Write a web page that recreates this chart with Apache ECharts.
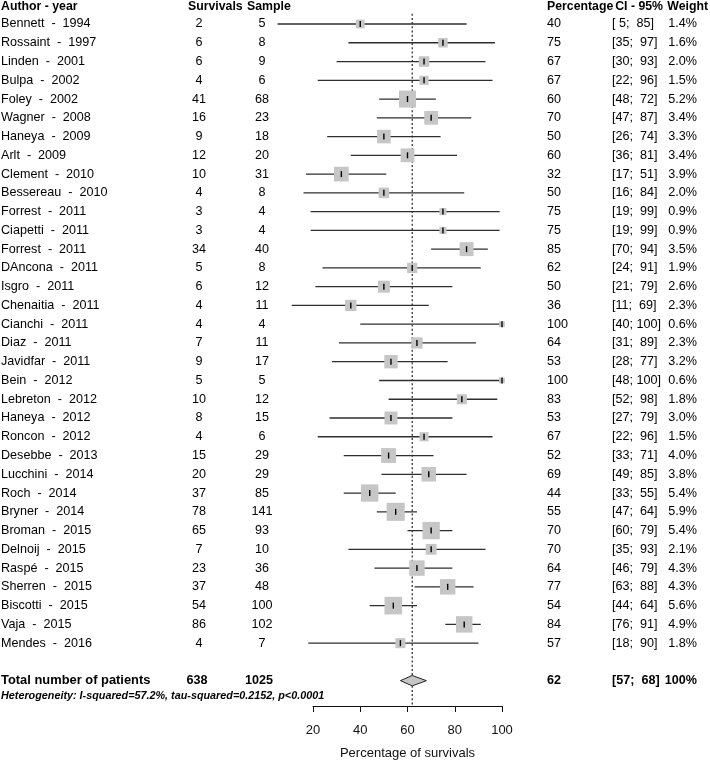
<!DOCTYPE html>
<html>
<head>
<meta charset="utf-8">
<script src="https://cdn.jsdelivr.net/npm/echarts@6/dist/echarts.min.js"></script>
<style>
html,body{margin:0;padding:0;background:#fff;}
#chart{width:710px;height:761px;}
</style>
</head>
<body>
<div id="chart"></div>
<script>
// ---------------- data ----------------
const authors = ['Bennett  -  1994','Rossaint  -  1997','Linden  -  2001','Bulpa  -  2002','Foley  -  2002','Wagner  -  2008','Haneya  -  2009','Arlt  -  2009','Clement  -  2010','Bessereau  -  2010','Forrest  -  2011','Ciapetti  -  2011','Forrest  -  2011','DAncona  -  2011','Isgro  -  2011','Chenaitia  -  2011','Cianchi  -  2011','Diaz  -  2011','Javidfar  -  2011','Bein  -  2012','Lebreton  -  2012','Haneya  -  2012','Roncon  -  2012','Desebbe  -  2013','Lucchini  -  2014','Roch  -  2014','Bryner  -  2014','Broman  -  2015','Delnoij  -  2015','Raspé  -  2015','Sherren  -  2015','Biscotti  -  2015','Vaja  -  2015','Mendes  -  2016'];
const survivals = [2,6,6,4,41,16,9,12,10,4,3,3,34,5,6,4,4,7,9,5,10,8,4,15,20,37,78,65,7,23,37,54,86,4];
const samples = [5,8,9,6,68,23,18,20,31,8,4,4,40,8,12,11,4,11,17,5,12,15,6,29,29,85,141,93,10,36,48,100,102,7];
const percentages = [40,75,67,67,60,70,50,60,32,50,75,75,85,62,50,36,100,64,53,100,83,53,67,52,69,44,55,70,70,64,77,54,84,57];
const ciLower = [5,35,30,22,48,47,26,36,17,16,19,19,70,24,21,11,40,31,28,48,52,27,22,33,49,33,47,60,35,46,63,44,76,18];
const ciUpper = [85,97,93,96,72,87,74,81,51,84,99,99,94,91,79,69,100,89,77,100,98,79,96,71,85,55,64,79,93,79,88,64,91,90];
const weights = [1.4,1.6,2.0,1.5,5.2,3.4,3.3,3.4,3.9,2.0,0.9,0.9,3.5,1.9,2.6,2.3,0.6,2.3,3.2,0.6,1.8,3.0,1.5,4.0,3.8,5.4,5.9,5.4,2.1,4.3,4.3,5.6,4.9,1.8];

const totalLabel = 'Total number of patients';
const totalSurvivals = 638;
const totalSample = 1025;
const pooledPct = 62;
const pooledLower = 57;
const pooledUpper = 68;
const pooledWeight = '100%';
const heterogeneityText = 'Heterogeneity: I-squared=57.2%, tau-squared=0.2152, p<0.0001';

const headers = ['Author - year','Survivals','Sample','Percentage','CI - 95%','Weight'];
const xTicks = [20, 40, 60, 80, 100];
const axisTitle = 'Percentage of survivals';

// ---------------- layout ----------------
const FONT = "'Liberation Sans', Arial, sans-serif";
const BODY = 12.6;
const HEAD = 12.3;
const ROW_HEADER = -0.92, ROW_TOTAL = 35, ROW_HET = 35.8;
const cols = {
  author: {x: 1, align: 'left'},
  surv: {x: 199, align: 'center'},
  samp: {x: 262, align: 'center'},
  pct: {x: 547, align: 'left'},
  ci: {x: 612, align: 'left'},
  wt: {x: 697, align: 'right'}
};
const headerPos = [
  {x: 1, align: 'left'}, {x: 188, align: 'left'}, {x: 247, align: 'left'},
  {x: 547, align: 'left'}, {x: 663, align: 'right'}, {x: 708, align: 'right'}
];

function fmtCI(lo, hi) {
  return '[' + String(lo).padStart(2, ' ') + '; ' + String(hi).padStart(3, ' ') + ']';
}

// build text items
const textItems = [];
headers.forEach((h, i) => textItems.push({row: ROW_HEADER, x: headerPos[i].x, align: headerPos[i].align, text: h, weight: 'bold', size: HEAD}));
authors.forEach((a, i) => {
  textItems.push({row: i, ...cols.author, text: a});
  textItems.push({row: i, ...cols.surv, text: String(survivals[i])});
  textItems.push({row: i, ...cols.samp, text: String(samples[i])});
  textItems.push({row: i, ...cols.pct, text: String(percentages[i])});
  textItems.push({row: i, ...cols.ci, text: fmtCI(ciLower[i], ciUpper[i])});
  textItems.push({row: i, ...cols.wt, text: weights[i].toFixed(1) + '%'});
});
textItems.push({row: ROW_TOTAL, ...cols.author, text: totalLabel, weight: 'bold', size: 12.9});
textItems.push({row: ROW_TOTAL, x: 197, align: 'center', text: String(totalSurvivals), weight: 'bold'});
textItems.push({row: ROW_TOTAL, x: 259, align: 'center', text: String(totalSample), weight: 'bold'});
textItems.push({row: ROW_TOTAL, ...cols.pct, text: String(pooledPct), weight: 'bold'});
textItems.push({row: ROW_TOTAL, ...cols.ci, text: fmtCI(pooledLower, pooledUpper), weight: 'bold'});
textItems.push({row: ROW_TOTAL, ...cols.wt, text: pooledWeight, weight: 'bold'});
textItems.push({row: ROW_HET, ...cols.author, text: heterogeneityText, weight: 'bold', style: 'italic', size: 10.8});

const studyData = percentages.map((p, i) => [p, i, ciLower[i], ciUpper[i], weights[i]]);

const Y_MAX = 36.35;
const chart = echarts.init(document.getElementById('chart'), null, {renderer: 'canvas'});
chart.setOption({
  animation: false,
  backgroundColor: '#ffffff',
  grid: {left: 313, right: 208, top: 5.24, bottom: 55, containLabel: false, outerBoundsMode: 'none'},
  xAxis: {
    type: 'value', position: 'bottom', min: xTicks[0], max: xTicks[xTicks.length - 1], interval: 20,
    axisLine: {show: true, onZero: false, lineStyle: {color: '#111', width: 1}},
    axisTick: {show: true, inside: false, length: 6, lineStyle: {color: '#111', width: 1}},
    axisLabel: {margin: 18, fontSize: 13, color: '#111', fontFamily: FONT},
    splitLine: {show: false},
    name: axisTitle, nameLocation: 'middle', nameGap: 41,
    nameTextStyle: {fontSize: 13, color: '#111', fontFamily: FONT}
  },
  yAxis: {type: 'value', inverse: true, min: -1, max: Y_MAX, show: false, splitLine: {show: false}},
  series: [
    {
      type: 'line', silent: true, symbol: 'none', z: 1,
      data: [[pooledPct, -0.55], [pooledPct, Y_MAX]],
      lineStyle: {type: [2, 2.2], color: '#222', width: 1.2}
    },
    {
      type: 'custom', z: 3, clip: false,
      data: studyData,
      renderItem: function (params, api) {
        const p = api.value(0), r = api.value(1), lo = api.value(2), hi = api.value(3), w = api.value(4);
        const a = api.coord([lo, r]), b = api.coord([hi, r]), c = api.coord([p, r]);
        const s = 7.45 * Math.sqrt(w);
        return {
          type: 'group',
          children: [
            {type: 'line', shape: {x1: a[0], y1: a[1], x2: b[0], y2: b[1]}, style: {stroke: '#2e2e2e', lineWidth: 1.3}},
            {type: 'rect', shape: {x: c[0] - s / 2, y: c[1] - s / 2, width: s, height: s}, style: {fill: '#c6c6c6'}},
            {type: 'line', shape: {x1: c[0], y1: c[1] - 3, x2: c[0], y2: c[1] + 3}, style: {stroke: '#000', lineWidth: 1.4}}
          ]
        };
      }
    },
    {
      type: 'custom', z: 3, clip: false,
      data: [[pooledPct, ROW_TOTAL, pooledLower, pooledUpper]],
      renderItem: function (params, api) {
        const r = api.value(1);
        const c = api.coord([api.value(0), r]), a = api.coord([api.value(2), r]), b = api.coord([api.value(3), r]);
        const h = 5.2;
        return {
          type: 'polygon',
          shape: {points: [[a[0], a[1]], [c[0], c[1] - h], [b[0], b[1]], [c[0], c[1] + h]]},
          style: {fill: '#c6c6c6', stroke: '#222', lineWidth: 1}
        };
      }
    },
    {
      type: 'custom', z: 5, clip: false, silent: true,
      data: textItems.map(t => [xTicks[0], t.row]),
      renderItem: function (params, api) {
        const t = textItems[params.dataIndex];
        const y = api.coord([xTicks[0], t.row])[1];
        const size = t.size || BODY;
        return {
          type: 'text', x: t.x, y: y,
          style: {
            text: t.text, fill: '#000', align: t.align, verticalAlign: 'middle',
            font: (t.style || 'normal') + ' ' + (t.weight || 'normal') + ' ' + size + 'px ' + FONT
          }
        };
      }
    }
  ]
});
</script>
</body>
</html>
